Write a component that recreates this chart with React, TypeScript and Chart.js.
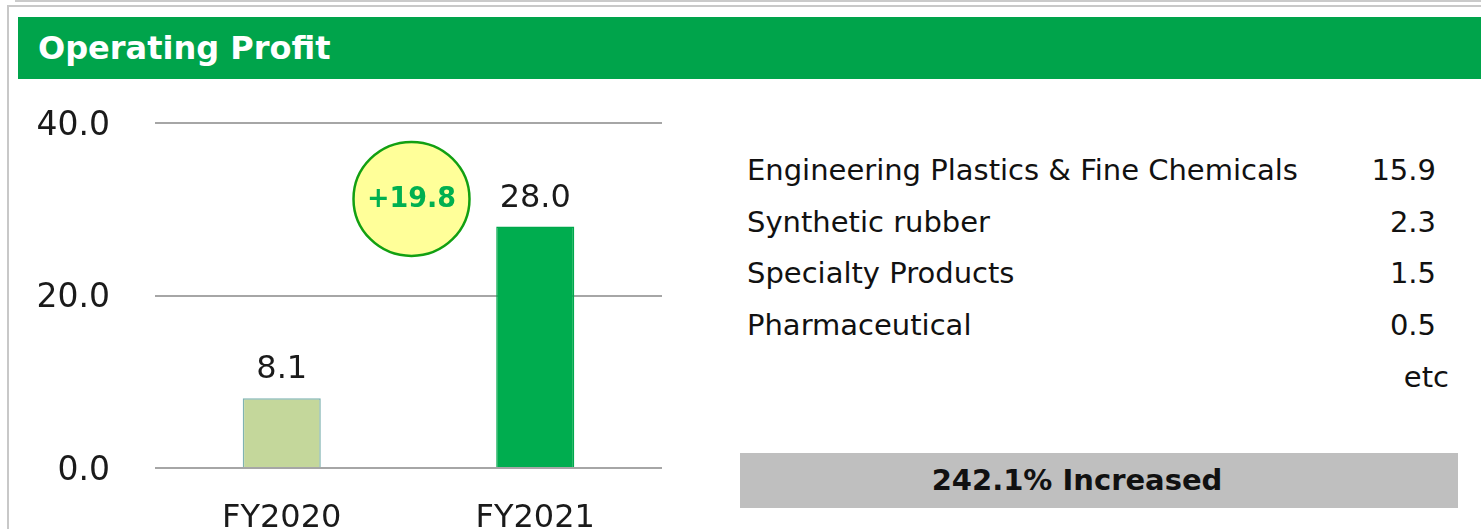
import React, { useEffect, useRef } from "react";
import { Chart, registerables } from "chart.js";

Chart.register(...registerables);

// ---- data ----
const title = "Operating Profit";
const categories = ["FY2020", "FY2021"];
const operatingProfit = [8.1, 28.0];
const barColors = ["#C4D79B", "#00AD4F"];
const barBorderColors = ["#7FB3B2", "#00A84B"];
const yMin = 0;
const yMax = 40;
const yStep = 20;
const changeLabel = "+19.8";
const changeBubbleValue = 31.2;
const segmentNames = [
  "Engineering Plastics & Fine Chemicals",
  "Synthetic rubber",
  "Specialty Products",
  "Pharmaceutical",
];
const segmentValues = ["15.9", "2.3", "1.5", "0.5"];
const etcLabel = "etc";
const increaseText = "242.1% Increased";

const FONT = "'DejaVu Sans', Verdana, sans-serif";

export default function App() {
  const canvasRef = useRef<HTMLCanvasElement | null>(null);

  useEffect(() => {
    if (!canvasRef.current) return;

    const valueLabels = {
      id: "valueLabels",
      afterDatasetsDraw(chart: any) {
        const ctx = chart.ctx;
        const meta = chart.getDatasetMeta(0);
        ctx.save();
        ctx.font = `32px ${FONT}`;
        ctx.fillStyle = "#1a1a1a";
        ctx.textAlign = "center";
        ctx.textBaseline = "alphabetic";
        meta.data.forEach((bar: any, i: number) => {
          ctx.fillText(operatingProfit[i].toFixed(1), bar.x, bar.y - 20);
        });
        ctx.restore();
      },
    };

    const bubble = {
      id: "bubble",
      afterDatasetsDraw(chart: any) {
        const ctx = chart.ctx;
        const meta = chart.getDatasetMeta(0);
        const x = (meta.data[0].x + meta.data[1].x) / 2 + 3;
        const y = chart.scales.y.getPixelForValue(changeBubbleValue);
        ctx.save();
        ctx.beginPath();
        ctx.ellipse(x, y, 58, 57, 0, 0, Math.PI * 2);
        ctx.fillStyle = "#FFFF99";
        ctx.fill();
        ctx.lineWidth = 2.5;
        ctx.strokeStyle = "#12A012";
        ctx.stroke();
        ctx.translate(x, y + 1);
        ctx.scale(0.93, 1);
        ctx.font = `bold 29px ${FONT}`;
        ctx.fillStyle = "#00B050";
        ctx.textAlign = "center";
        ctx.textBaseline = "middle";
        ctx.fillText(changeLabel, 0, 0);
        ctx.restore();
      },
    };

    const chart = new Chart(canvasRef.current, {
      type: "bar",
      data: {
        labels: categories,
        datasets: [
          {
            data: operatingProfit,
            backgroundColor: barColors,
            borderColor: barBorderColors,
            borderWidth: 1.5,
            barPercentage: 0.308,
            categoryPercentage: 1,
          },
        ],
      },
      options: {
        animation: false,
        responsive: false,
        devicePixelRatio: 1,
        layout: { padding: { left: 0, right: 38, top: 33, bottom: 0 } },
        plugins: {
          legend: { display: false },
          tooltip: { enabled: false },
        },
        scales: {
          x: {
            grid: { display: false, drawTicks: false },
            border: { display: false },
            ticks: {
              font: { family: FONT, size: 32 },
              color: "#1a1a1a",
              padding: 31,
              maxRotation: 0,
              autoSkip: false,
            },
            afterFit: (scale: any) => {
              scale.height = 61;
            },
          },
          y: {
            min: yMin,
            max: yMax,
            grid: { color: "#A6A6A6", lineWidth: 2, drawTicks: false },
            border: { display: false },
            ticks: {
              stepSize: yStep,
              font: { family: FONT, size: 33 },
              color: "#1a1a1a",
              padding: 45,
              labelOffset: 3,
              callback: (v: any) => Number(v).toFixed(1),
            },
            afterFit: (scale: any) => {
              scale.width = 155;
              scale.paddingTop = 0;
              scale.paddingBottom = 0;
            },
          },
        },
      },
      plugins: [valueLabels, bubble],
    });

    return () => chart.destroy();
  }, []);

  const rowH = 51.7;

  return (
    <div
      style={{
        position: "fixed",
        left: 0,
        top: 0,
        width: 1481,
        height: 529,
        background: "#fff",
        overflow: "hidden",
        fontFamily: FONT,
      }}
    >
      {/* frame lines */}
      <div style={{ position: "absolute", left: 15, top: 0, right: 0, height: 2, background: "#CACACA" }} />
      <div
        style={{
          position: "absolute",
          left: 7,
          top: 5,
          right: -10,
          bottom: -10,
          borderTop: "2px solid #C8C8C8",
          borderLeft: "2px solid #C8C8C8",
        }}
      />
      {/* header */}
      <div
        style={{
          position: "absolute",
          left: 18,
          top: 17,
          right: 0,
          height: 62,
          background: "#00A44B",
          color: "#fff",
          fontWeight: "bold",
          fontSize: 32,
          lineHeight: "62px",
          paddingLeft: 20,
          boxSizing: "border-box",
        }}
      >
        {title}
      </div>
      {/* chart */}
      <canvas
        ref={canvasRef}
        width={700}
        height={439}
        style={{ position: "absolute", left: 0, top: 90, width: 700, height: 439 }}
      />
      {/* segment list */}
      <div style={{ position: "absolute", left: 747, top: 145, width: 702, fontSize: 29, color: "#111" }}>
        {segmentNames.map((n, i) => (
          <div key={n} style={{ position: "relative", height: rowH, lineHeight: `${rowH}px`, whiteSpace: "nowrap" }}>
            <span>{n}</span>
            <span style={{ position: "absolute", right: 13, top: 0 }}>{segmentValues[i]}</span>
          </div>
        ))}
        <div style={{ position: "relative", height: rowH, lineHeight: `${rowH}px` }}>
          <span style={{ position: "absolute", right: 0, top: 0 }}>{etcLabel}</span>
        </div>
      </div>
      {/* increase box */}
      <div
        style={{
          position: "absolute",
          left: 740,
          top: 453,
          width: 718,
          height: 55,
          background: "#BFBFBF",
          color: "#111",
          fontWeight: "bold",
          fontSize: 29,
          lineHeight: "55px",
          textAlign: "center",
          paddingRight: 44,
          boxSizing: "border-box",
        }}
      >
        {increaseText}
      </div>
    </div>
  );
}
